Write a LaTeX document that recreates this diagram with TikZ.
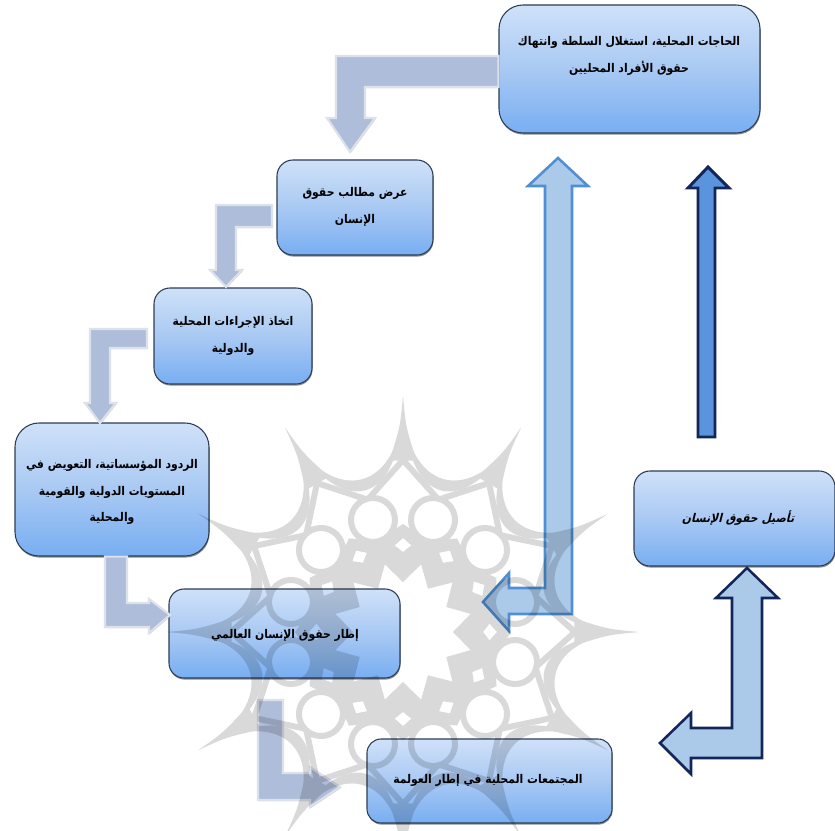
\documentclass[tikz,border=0pt]{standalone}
\usepackage{fontspec}
\usetikzlibrary{shadows,calc}
\TeXXeTstate=1
\newfontfamily\arabicfont[Script=Arabic,FakeStretch=0.9]{DejaVu Sans Bold}
\newfontfamily\arabicslant[Script=Arabic,FakeStretch=0.9,FakeSlant=0.25]{DejaVu Sans Bold}
\definecolor{boxtop}{HTML}{CFE1F9}
\definecolor{boxmid}{HTML}{A9C9F3}
\definecolor{boxbot}{HTML}{78AEF2}
\definecolor{boxline}{HTML}{2C3E55}
\definecolor{softfill}{HTML}{AEBDD9}
\definecolor{softedge}{HTML}{DCE1EA}
\definecolor{paleblue}{HTML}{ABCAEA}
\definecolor{midedge}{HTML}{4F8FD2}
\definecolor{darkedge}{HTML}{12265A}
\definecolor{midfill}{HTML}{5A94DC}
\tikzset{
  flowbox/.style n args={3}{draw=boxline,line width=0.8pt,top color=boxtop,bottom color=boxbot,middle color=boxmid,
    rounded corners=#3*0.75pt,
    minimum width=#1*0.75pt,minimum height=#2*0.75pt,inner sep=0pt,
    drop shadow={shadow xshift=0.4pt,shadow yshift=-1.2pt,opacity=.45,fill=black}},
  softarrow/.style={fill=softfill,draw=softedge,line width=1.6pt,line join=miter,
    drop shadow={shadow xshift=0.5pt,shadow yshift=-0.8pt,opacity=.25,fill=black}},
  palearrow/.style={fill=paleblue,draw=midedge,line width=1.9pt,line join=miter},
  darkpale/.style={fill=paleblue,draw=darkedge,line width=1.9pt,line join=miter},
  darkmid/.style={fill=midfill,draw=darkedge,line width=2.2pt,line join=miter},
  boxtext/.style={text=black,align=center,font=\arabicfont\fontsize{#1}{20}\selectfont,inner sep=0pt}
}
\begin{document}
\begin{tikzpicture}[x=0.75pt,y=-0.75pt]
\useasboundingbox (0,0) rectangle (835,831);
\clip (0,0) rectangle (835,831);
\fill[white] (0,0) rectangle (835,831);
% target points of the arrows
\coordinate (t1) at (350,152);
\coordinate (t2) at (226,287);
\coordinate (t3) at (100,423);
\coordinate (t4) at (170,615);
\coordinate (t5) at (340,787);
\coordinate (t6) at (558,158);
\coordinate (t6b) at (483,602);
\coordinate (t7) at (708,167);
\coordinate (t8) at (747,568);
\coordinate (t8b) at (660,743);
% boxes
\node[flowbox={261}{128}{24}] (b1) at (629.5,69) {};
\node[flowbox={156}{95}{16}] (b2) at (355,207.5) {};
\node[flowbox={158}{96}{16}] (b3) at (233,336) {};
\node[flowbox={194}{133}{24}] (b4) at (112,489.5) {};
\node[flowbox={231}{89}{15}] (b5) at (284.5,633.5) {};
\node[flowbox={245}{84}{14}] (b6) at (489.5,781) {};
\node[flowbox={201}{95}{16}] (b7) at (734.5,518.5) {};
% soft arrows
\draw[softarrow] (b1.west |- 0,56) -- (336,56) -- (336,118) -- (327,118) -- (t1) -- (375,118) -- (365,118) -- (365,87) -- (b1.west |- 0,87) -- cycle;
\draw[softarrow] (272,205) -- (216,205) -- (216,270) -- (210,270) -- (t2) -- (242,270) -- (236,270) -- (236,227) -- (272,227) -- cycle;
\draw[softarrow] (147,329) -- (90,329) -- (90,403) -- (85,403) -- (t3) -- (116,403) -- (110,403) -- (110,348) -- (147,348) -- cycle;
\draw[softarrow] (b4.south -| 105,0) -- (105,627) -- (149,627) -- (149,633) -- (t4) -- (149,599) -- (149,603) -- (127,603) -- (b4.south -| 127,0) -- cycle;
\draw[softarrow] (258,700) -- (258,800) -- (310,800) -- (310,807) -- (t5) -- (310,767) -- (310,773) -- (283,773) -- (283,700) -- cycle;
% outlined arrows
\draw[palearrow] (t6) -- (588,186) -- (572,186) -- (572,614) -- (509,614) -- (509,631) -- (t6b) -- (509,573) -- (509,588) -- (545,588) -- (545,186) -- (528,186) -- cycle;
\draw[darkmid] (t7) -- (729,188) -- (715,188) -- (715,437) -- (698,437) -- (698,188) -- (688,188) -- cycle;
\draw[darkpale] (t8) -- (778,598) -- (762,598) -- (762,758) -- (691,758) -- (691,774) -- (t8b) -- (691,713) -- (691,728) -- (732,728) -- (732,598) -- (716,598) -- cycle;
% watermark
\begin{scope}[shift={(403,632)},transparency group,opacity=.15]
  \foreach \a in {0,30,...,330}{
    \fill[black] (\a:235) .. controls (\a:140) and ({\a+30}:140) .. ({\a+30}:235)
       .. controls ({\a+30}:124) and (\a:124) .. (\a:235) -- cycle;
    \fill[black] (\a:236) .. controls ({\a+0.8}:205) .. ({\a+4.5}:172) -- ({\a-4.5}:172) .. controls ({\a-0.8}:205) .. (\a:236) -- cycle;
    \draw[black,line width=4.5pt] ({\a-15}:137) -- (\a:172) -- ({\a+15}:137);
    \draw[black,line width=4.5pt] ({\a+15}:116) circle (22);
  }
  \fill[black,even odd rule]
    (0:108) \foreach \a in {0,30,...,330}{ -- ({\a+15}:95) -- ({\a+30}:108) } -- cycle
    (0:50) \foreach \a in {0,30,...,330}{ -- ({\a+15}:70) -- ({\a+30}:50) } -- cycle
    \foreach \a in {0,30,...,330}{ (\a:80) -- ({\a+5.5}:87) -- (\a:94) -- ({\a-5.5}:87) -- cycle };
\end{scope}
% texts
\node[boxtext=9] (x1) at (629,56) {\beginR الحاجات المحلية، استغلال السلطة وانتهاك\endR\\\beginR حقوق الأفراد المحليين\endR};
\node[boxtext=9] (x2) at (355,207) {\beginR عرض مطالب حقوق\endR\\\beginR الإنسان\endR};
\node[boxtext=9] (x3) at (233,336) {\beginR اتخاذ الإجراءات المحلية\endR\\\beginR والدولية\endR};
\node[boxtext=9] (x4) at (112,492) {\beginR الردود المؤسساتية، التعويض في\endR\\\beginR المستويات الدولية والقومية\endR\\\beginR والمحلية\endR};
\node[boxtext=9] (x5) at (285,635) {\beginR إطار حقوق الإنسان العالمي\endR};
\node[boxtext=9] (x6) at (488,780) {\beginR المجتمعات المحلية في إطار العولمة\endR};
\node[boxtext=9] (x7) at (738,518) {\arabicslant\beginR تأصيل حقوق الإنسان\endR};
\end{tikzpicture}
\end{document}
